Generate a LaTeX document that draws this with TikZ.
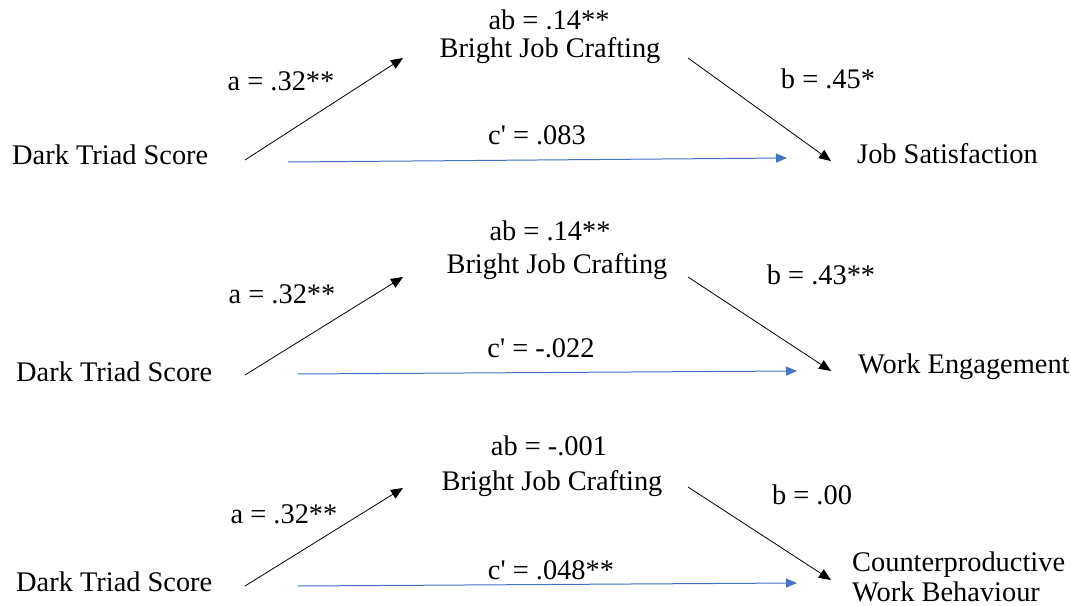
\documentclass[tikz,border=0pt]{standalone}
\usepackage{fontspec}
\setmainfont{Liberation Serif}
\usetikzlibrary{arrows.meta}
\definecolor{pathblue}{HTML}{4472C4}
\begin{document}
\begin{tikzpicture}[x=1bp,y=-1bp,
  lbl/.style={font=\fontsize{28.5}{30}\selectfont,inner sep=0pt,anchor=base},
  lft/.style={lbl,anchor=base west},
  patharrow/.style={draw=black,line width=0.8bp,-{Triangle[length=12bp,width=10bp]}},
  directarrow/.style={draw=pathblue,line width=1bp,-{Triangle[length=11bp,width=9bp]},color=pathblue}]
\useasboundingbox (0,0) rectangle (1071,606);

% ---------- Panel 1 ----------
\node[lbl] (ab1) at (549,30) {ab = .14**};
\node[lbl] (m1) at (550,58) {Bright Job Crafting};
\node[lbl] (a1) at (281,91) {a = .32**};
\node[lbl] (b1) at (828,89) {b = .45*};
\node[lft] (x1) at (12,165) {Dark Triad Score};
\node[lbl] (c1) at (537,145) {c\textquotesingle\ = .083};
\node[lft] (y1) at (857,164) {Job Satisfaction};
\coordinate (a1s) at (245,160);
\coordinate (a1e) at (403,58);
\coordinate (b1s) at (688,58);
\coordinate (b1e) at (831,161);
\coordinate (c1s) at (288,162);
\coordinate (c1e) at (787,158);
\draw[patharrow] (a1s) -- (a1e);
\draw[patharrow] (b1s) -- (b1e);
\draw[directarrow] (c1s) -- (c1e);

% ---------- Panel 2 ----------
\node[lbl] (ab2) at (550,241) {ab = .14**};
\node[lbl] (m2) at (557,274) {Bright Job Crafting};
\node[lbl] (a2) at (282,304) {a = .32**};
\node[lbl] (b2) at (821,285) {b = .43**};
\node[lft] (x2) at (16,381) {Dark Triad Score};
\node[lbl] (c2) at (541,357) {c\textquotesingle\ = -.022};
\node[lft] (y2) at (858,373) {Work Engagement};
\coordinate (a2s) at (245,375);
\coordinate (a2e) at (403,277);
\coordinate (b2s) at (688,277);
\coordinate (b2e) at (831,371);
\coordinate (c2s) at (298,374);
\coordinate (c2e) at (797,371);
\draw[patharrow] (a2s) -- (a2e);
\draw[patharrow] (b2s) -- (b2e);
\draw[directarrow] (c2s) -- (c2e);

% ---------- Panel 3 ----------
\node[lbl] (ab3) at (549,455) {ab = -.001};
\node[lbl] (m3) at (552,490) {Bright Job Crafting};
\node[lbl] (a3) at (284,523) {a = .32**};
\node[lbl] (b3) at (812,504) {b = .00};
\node[lft] (x3) at (16,591) {Dark Triad Score};
\node[lbl] (c3) at (551,579) {c\textquotesingle\ = .048**};
\node[lft,align=left] (y3) at (852,601) {Counterproductive\\Work Behaviour};
\coordinate (a3s) at (245,586);
\coordinate (a3e) at (403,488);
\coordinate (b3s) at (688,487);
\coordinate (b3e) at (831,580);
\coordinate (c3s) at (298,586);
\coordinate (c3e) at (797,583);
\draw[patharrow] (a3s) -- (a3e);
\draw[patharrow] (b3s) -- (b3e);
\draw[directarrow] (c3s) -- (c3e);
\end{tikzpicture}
\end{document}
